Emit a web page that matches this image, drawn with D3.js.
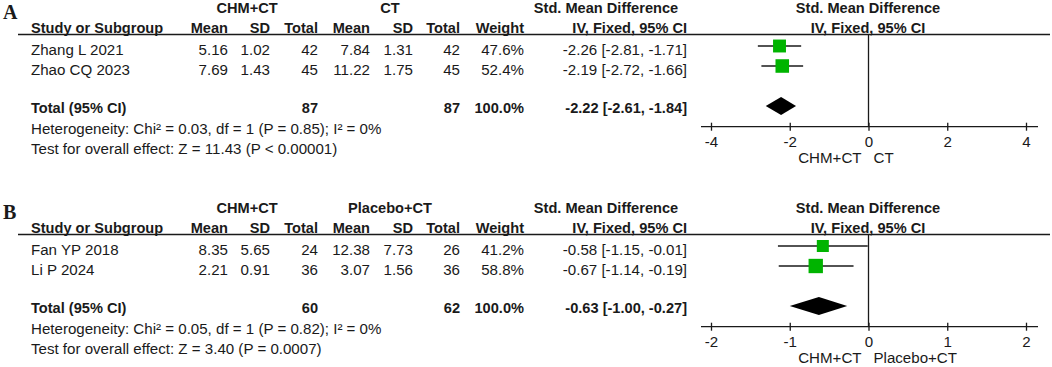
<!DOCTYPE html>
<html>
<head>
<meta charset="utf-8">
<script src="https://cdn.jsdelivr.net/npm/d3@7"></script>
<style>
  body { margin: 0; background: #fff; }
  text { font-family: "Liberation Sans", Arial, sans-serif; fill: #1a1a1a; }
</style>
</head>
<body>
<div id="chart"></div>
<script>
// ---- data: panel A (CHM+CT vs CT) ----
const studiesA = ["Zhang L 2021", "Zhao CQ 2023"];
const expMeanA = [5.16, 7.69];
const expSdA = [1.02, 1.43];
const expNA = [42, 45];
const ctlMeanA = [7.84, 11.22];
const ctlSdA = [1.31, 1.75];
const ctlNA = [42, 45];
const weightA = [47.6, 52.4];
const smdA = [-2.26, -2.19];
const lowA = [-2.81, -2.72];
const highA = [-1.71, -1.66];
const totalNA = [87, 87];
const totalSmdA = [-2.22, -2.61, -1.84];
const hetA = "Heterogeneity: Chi² = 0.03, df = 1 (P = 0.85); I² = 0%";
const testA = "Test for overall effect: Z = 11.43 (P < 0.00001)";
const ticksA = [-4, -2, 0, 2, 4];

// ---- data: panel B (CHM+CT vs Placebo+CT) ----
const studiesB = ["Fan YP 2018", "Li P 2024"];
const expMeanB = [8.35, 2.21];
const expSdB = [5.65, 0.91];
const expNB = [24, 36];
const ctlMeanB = [12.38, 3.07];
const ctlSdB = [7.73, 1.56];
const ctlNB = [26, 36];
const weightB = [41.2, 58.8];
const smdB = [-0.58, -0.67];
const lowB = [-1.15, -1.14];
const highB = [-0.01, -0.19];
const totalNB = [60, 62];
const totalSmdB = [-0.63, -1.00, -0.27];
const hetB = "Heterogeneity: Chi² = 0.05, df = 1 (P = 0.82); I² = 0%";
const testB = "Test for overall effect: Z = 3.40 (P = 0.0007)";
const ticksB = [-2, -1, 0, 1, 2];

const expLabel = "CHM+CT";

const width = 1052, height = 367;
const svg = d3.select("#chart").append("svg")
  .attr("width", width).attr("height", height);

const fmt2 = v => v.toFixed(2);

function drawPanel(top, letter, ctlLabel, studies, expMean, expSd, expN, ctlMean, ctlSd, ctlN,
                   weight, smd, low, high, totalN, totalSmd, het, test, ticks) {
  const g = svg.append("g").attr("transform", `translate(0,${top})`);
  const fs = 15.1, fsb = 14.6;

  // column anchors (right aligned)
  const col = {mean: 228, sd: 270, n: 318, cmean: 370, csd: 413, cn: 460, w: 524, ci: 687};
  const rowY = d3.scaleOrdinal().domain(studies).range([55, 75]);

  g.append("text").attr("x", 3).attr("y", 19)
    .style("font-family", "'Liberation Serif', 'Times New Roman', serif")
    .style("font-weight", "bold").style("font-size", "20px").text(letter);

  // group headers
  const bold = sel => sel.style("font-weight", "bold").style("font-size", fsb + "px");
  const reg = sel => sel.style("font-size", fs + "px");
  g.append("text").attr("x", 247).attr("y", 13).attr("text-anchor", "middle").call(bold).text(expLabel);
  g.append("text").attr("x", 390).attr("y", 13).attr("text-anchor", "middle").call(bold).text(ctlLabel);
  g.append("text").attr("x", 606).attr("y", 13).attr("text-anchor", "middle").call(bold).text("Std. Mean Difference");
  g.append("text").attr("x", 868).attr("y", 13).attr("text-anchor", "middle").call(bold).text("Std. Mean Difference");

  // column headers
  g.append("text").attr("x", 31).attr("y", 33).call(bold).text("Study or Subgroup");
  const heads = [["Mean", col.mean], ["SD", col.sd], ["Total", col.n], ["Mean", col.cmean],
                 ["SD", col.csd], ["Total", col.cn], ["Weight", col.w], ["IV, Fixed, 95% CI", col.ci]];
  g.selectAll(".head").data(heads).join("text")
    .attr("x", d => d[1]).attr("y", 33).attr("text-anchor", "end").call(bold).text(d => d[0]);
  g.append("text").attr("x", 868).attr("y", 33).attr("text-anchor", "middle").call(bold).text("IV, Fixed, 95% CI");

  g.append("line").attr("x1", 18).attr("x2", 1050).attr("y1", 34.5).attr("y2", 34.5)
    .attr("stroke", "#1a1a1a").attr("stroke-width", 1.3);

  // study rows
  const rows = studies.map((s, i) => ({
    s, vals: [
      [expMean[i].toFixed(2), col.mean], [expSd[i].toFixed(2), col.sd], [expN[i], col.n],
      [ctlMean[i].toFixed(2), col.cmean], [ctlSd[i].toFixed(2), col.csd], [ctlN[i], col.cn],
      [weight[i].toFixed(1) + "%", col.w],
      [`${fmt2(smd[i])} [${fmt2(low[i])}, ${fmt2(high[i])}]`, col.ci]
    ]
  }));
  const rg = g.selectAll(".row").data(rows).join("g");
  rg.append("text").attr("x", 31).attr("y", d => rowY(d.s)).call(reg).text(d => d.s);
  rg.selectAll(".v").data(d => d.vals.map(v => [v[0], v[1], rowY(d.s)])).join("text")
    .attr("x", d => d[1]).attr("y", d => d[2]).attr("text-anchor", "end")
    .call(reg).text(d => d[0]);

  // total row
  const totY = 113;
  g.append("text").attr("x", 31).attr("y", totY).call(bold).text("Total (95% CI)");
  const tv = [[totalN[0], col.n], [totalN[1], col.cn], ["100.0%", col.w],
              [`${fmt2(totalSmd[0])} [${fmt2(totalSmd[1])}, ${fmt2(totalSmd[2])}]`, col.ci]];
  g.selectAll(".tot").data(tv).join("text")
    .attr("x", d => d[1]).attr("y", totY).attr("text-anchor", "end").call(bold).text(d => d[0]);
  g.append("text").attr("x", 31).attr("y", 134).call(reg).text(het);
  g.append("text").attr("x", 31).attr("y", 154).call(reg).text(test);

  // forest plot
  const x = d3.scaleLinear().domain(d3.extent(ticks)).range([711, 1026]);
  const axisY = 126.7;
  const size = d3.scaleSqrt().domain([0, 60]).range([0, 14.5]);

  g.append("line").attr("x1", x(0)).attr("x2", x(0)).attr("y1", 34.5).attr("y2", axisY)
    .attr("stroke", "#1a1a1a").attr("stroke-width", 1.3);

  studies.forEach((s, i) => {
    g.append("line").attr("x1", x(low[i])).attr("x2", x(high[i]))
      .attr("y1", rowY(s) - 9).attr("y2", rowY(s) - 9)
      .attr("stroke", "#1a1a1a").attr("stroke-width", 1.3);
    const sz = size(weight[i]);
    g.append("rect").attr("x", x(smd[i]) - sz / 2).attr("y", rowY(s) - 9 - sz / 2)
      .attr("width", sz).attr("height", sz).attr("fill", "#00b400");
  });

  const dy = totY - 7;
  g.append("path")
    .attr("d", `M${x(totalSmd[1])},${dy} L${x(totalSmd[0])},${dy - 9} L${x(totalSmd[2])},${dy} L${x(totalSmd[0])},${dy + 9} Z`)
    .attr("fill", "#000");

  const ax = g.append("g").attr("transform", `translate(0,${axisY})`)
    .call(d3.axisBottom(x).tickValues(ticks).tickSize(4).tickPadding(6).tickFormat(d => String(d)));
  ax.select(".domain").remove();
  ax.selectAll(".tick line").attr("y1", -4).attr("y2", 4).attr("stroke", "#1a1a1a").attr("stroke-width", 1.3);
  ax.selectAll(".tick text").style("font-family", "'Liberation Sans', Arial, sans-serif")
    .style("font-size", fs + "px").attr("fill", "#1a1a1a");
  ax.append("line").attr("x1", x.range()[0] - 10).attr("x2", x.range()[1] + 12)
    .attr("stroke", "#1a1a1a").attr("stroke-width", 1.3);

  g.append("text").attr("x", x(0) - 7).attr("y", 163).attr("text-anchor", "end")
    .call(reg).text(expLabel);
  g.append("text").attr("x", x(0) + 5).attr("y", 163)
    .call(reg).text(ctlLabel);
}

drawPanel(0, "A", "CT", studiesA, expMeanA, expSdA, expNA, ctlMeanA, ctlSdA, ctlNA,
  weightA, smdA, lowA, highA, totalNA, totalSmdA, hetA, testA, ticksA);
drawPanel(200, "B", "Placebo+CT", studiesB, expMeanB, expSdB, expNB, ctlMeanB, ctlSdB, ctlNB,
  weightB, smdB, lowB, highB, totalNB, totalSmdB, hetB, testB, ticksB);
</script>
</body>
</html>
